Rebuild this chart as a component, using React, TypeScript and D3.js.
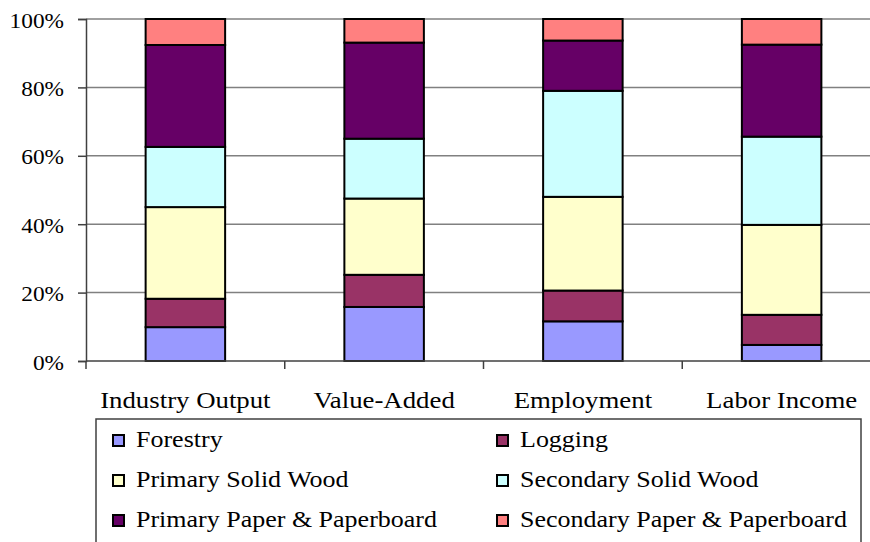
import React, { useRef, useEffect } from "react";
import * as d3 from "d3";

const categories = ["Industry Output", "Value-Added", "Employment", "Labor Income"];
const seriesNames = [
  "Forestry",
  "Logging",
  "Primary Solid Wood",
  "Secondary Solid Wood",
  "Primary Paper & Paperboard",
  "Secondary Paper & Paperboard",
];
const forestry = [9.9, 15.8, 11.6, 4.7];
const logging = [8.3, 9.4, 9.0, 8.8];
const primarySolidWood = [26.8, 22.3, 27.4, 26.3];
const secondarySolidWood = [17.6, 17.5, 31.0, 25.8];
const primaryPaper = [29.8, 28.1, 14.7, 26.9];
const secondaryPaper = [7.6, 6.9, 6.3, 7.5];
const yTicks = [0, 20, 40, 60, 80, 100];
const colors = ["#9999ff", "#993366", "#ffffcc", "#ccffff", "#660066", "#ff8080"];

// the source text is drawn a bit wider than plain Times
const stretch = (sel: any, k: number) => {
  sel.each(function (this: any) {
    const len = this.getComputedTextLength();
    d3.select(this).attr("textLength", len * k).attr("lengthAdjust", "spacingAndGlyphs");
  });
};

const App = () => {
  const svgRef = useRef(null);
  const width = 870;
  const height = 542;
  const margin = { left: 86, top: 19, right: -11, bottom: 181 };
  const font = "'Liberation Serif', 'Times New Roman', serif";

  useEffect(() => {
    const svg = d3.select(svgRef.current);
    svg.selectAll("*").remove();

    const values = [forestry, logging, primarySolidWood, secondarySolidWood, primaryPaper, secondaryPaper];
    const rows = categories.map((c, i) => {
      const row: any = { category: c };
      seriesNames.forEach((s, j) => (row[s] = values[j][i]));
      return row;
    });
    const stacked = d3.stack().keys(seriesNames).offset(d3.stackOffsetExpand)(rows);

    const xScale = d3
      .scaleBand()
      .domain(categories)
      .range([margin.left, width - margin.right])
      .paddingInner(0.6)
      .paddingOuter(0.3);
    const yScale = d3
      .scaleLinear()
      .domain([0, 100])
      .range([height - margin.bottom, margin.top]);

    // gridlines
    svg
      .append("g")
      .selectAll("line")
      .data(yTicks.slice(1))
      .enter()
      .append("line")
      .attr("x1", margin.left)
      .attr("x2", width)
      .attr("y1", (d) => yScale(d))
      .attr("y2", (d) => yScale(d))
      .attr("stroke", "#808080")
      .attr("stroke-width", 1.5);

    // y axis
    const yAxis = svg
      .append("g")
      .attr("transform", `translate(${margin.left},0)`)
      .call(
        d3
          .axisLeft(yScale)
          .tickValues(yTicks)
          .tickSize(8)
          .tickPadding(14)
          .tickFormat((d: any) => `${d}%`)
      );
    yAxis.select(".domain").attr("stroke", "#404040").attr("stroke-width", 1.5);
    yAxis.selectAll(".tick line").attr("stroke", "#404040").attr("stroke-width", 1.5);
    const yLabels = yAxis
      .selectAll(".tick text")
      .attr("font-family", font)
      .attr("font-size", 22)
      .attr("dy", 8)
      .attr("fill", "#000");
    stretch(yLabels, 1.06);

    // bars
    svg
      .append("g")
      .selectAll("g")
      .data(stacked)
      .enter()
      .append("g")
      .attr("fill", (d, i) => colors[i])
      .selectAll("rect")
      .data((d) => d)
      .enter()
      .append("rect")
      .attr("x", (d: any) => xScale(d.data.category) as number)
      .attr("width", xScale.bandwidth())
      .attr("y", (d) => yScale(d[1] * 100))
      .attr("height", (d) => yScale(d[0] * 100) - yScale(d[1] * 100))
      .attr("stroke", "#000")
      .attr("stroke-width", 2);

    // x axis
    const step = xScale.step();
    const x0 = margin.left;
    svg
      .append("line")
      .attr("x1", x0)
      .attr("x2", width)
      .attr("y1", yScale(0))
      .attr("y2", yScale(0))
      .attr("stroke", "#404040")
      .attr("stroke-width", 1.5);
    svg
      .append("g")
      .selectAll("line")
      .data(categories)
      .enter()
      .append("line")
      .attr("x1", (d, i) => x0 + step * i)
      .attr("x2", (d, i) => x0 + step * i)
      .attr("y1", yScale(0))
      .attr("y2", yScale(0) + 8)
      .attr("stroke", "#404040")
      .attr("stroke-width", 1.5);
    const catLabels = svg
      .append("g")
      .selectAll("text")
      .data(categories)
      .enter()
      .append("text")
      .attr("x", (d) => (xScale(d) as number) + xScale.bandwidth() / 2)
      .attr("y", 408)
      .attr("text-anchor", "middle")
      .attr("font-family", font)
      .attr("font-size", 23.5)
      .text((d) => d);
    stretch(catLabels, 1.14);

    // legend
    const legend = svg.append("g");
    legend
      .append("rect")
      .attr("x", 96)
      .attr("y", 419)
      .attr("width", 765)
      .attr("height", 140)
      .attr("fill", "#fff")
      .attr("stroke", "#404040")
      .attr("stroke-width", 1.5);
    const items = legend
      .selectAll("g")
      .data(seriesNames)
      .enter()
      .append("g")
      .attr("transform", (d, i) => `translate(${i % 2 === 0 ? 113 : 497},${447 + Math.floor(i / 2) * 40})`);
    items
      .append("rect")
      .attr("x", 0)
      .attr("y", -12)
      .attr("width", 11)
      .attr("height", 11)
      .attr("fill", (d, i) => colors[i])
      .attr("stroke", "#000")
      .attr("stroke-width", 2);
    const legLabels = items
      .append("text")
      .attr("x", 23)
      .attr("y", 0)
      .attr("font-family", font)
      .attr("font-size", 23)
      .text((d) => d);
    stretch(legLabels, 1.13);
  }, []);

  return (
    <svg
      ref={svgRef}
      width={width}
      height={height}
      style={{ position: "absolute", left: 0, top: 0, background: "#fff" }}
    />
  );
};

export default App;
